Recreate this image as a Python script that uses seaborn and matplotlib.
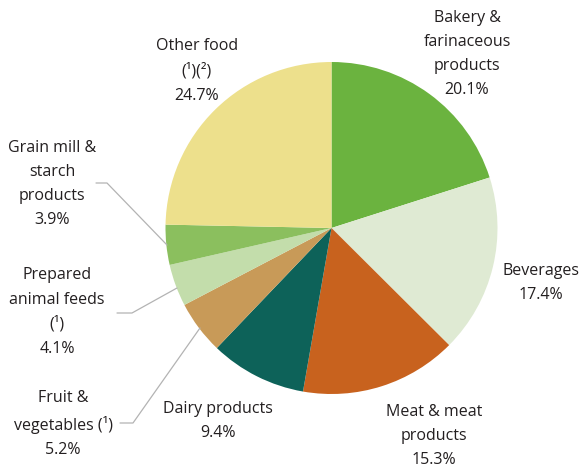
import matplotlib
matplotlib.use("Agg")
import matplotlib.pyplot as plt
import seaborn as sns

# Share of food and beverage manufacturing, by sub-sector (%)
sectors = [
    "Bakery &\nfarinaceous\nproducts",
    "Beverages",
    "Meat & meat\nproducts",
    "Dairy products",
    "Fruit &\nvegetables (\u00b9)",
    "Prepared\nanimal feeds\n(\u00b9)",
    "Grain mill &\nstarch\nproducts",
    "Other food\n(\u00b9)(\u00b2)",
]
shares = [20.1, 17.4, 15.3, 9.4, 5.2, 4.1, 3.9, 24.7]
colors = ["#6bb33f", "#dfead3", "#c8621e", "#0d6259",
          "#c89a58", "#c3ddab", "#8bbf5e", "#ede08c"]

sns.set_theme(style="white")
plt.rcParams["font.family"] = ["Open Sans", "DejaVu Sans"]

W, H = 588, 471
fig = plt.figure(figsize=(W / 100, H / 100), dpi=100)
ax = fig.add_axes([0, 0, 1, 1])

cx, cy, r = 331.5, H - 228, 166
ax.pie(shares, colors=colors, startangle=90, counterclock=False,
       center=(cx, cy), radius=r, frame=True,
       wedgeprops=dict(linewidth=0))
ax.set_xlim(0, W)
ax.set_ylim(0, H)
ax.set_aspect("equal")
ax.axis("off")

# label anchors (centre of each text block), in pixel space with y from top
label_pos = [
    (467, 54),
    (541, 283),
    (434, 436),
    (218, 421),
    (63, 424),
    (57, 312),
    (52, 184),
    (197, 71),
]
for name, val, (x, y) in zip(sectors, shares, label_pos):
    ax.text(x, H - y, f"{name}\n{val:.1f}%", ha="center", va="center",
            fontsize=11.5, color="#231f20", linespacing=1.68)

# leader lines for the narrow slices
leaders = [
    [(96, 183), (107, 183), (167, 245)],
    [(117, 313), (132, 313), (177, 288)],
    [(120, 423), (133, 423), (200, 328)],
]
for pts in leaders:
    xs = [p[0] for p in pts]
    ys = [H - p[1] for p in pts]
    ax.plot(xs, ys, color="#b3b3b3", lw=0.9)

fig.savefig("out.png", dpi=100)
